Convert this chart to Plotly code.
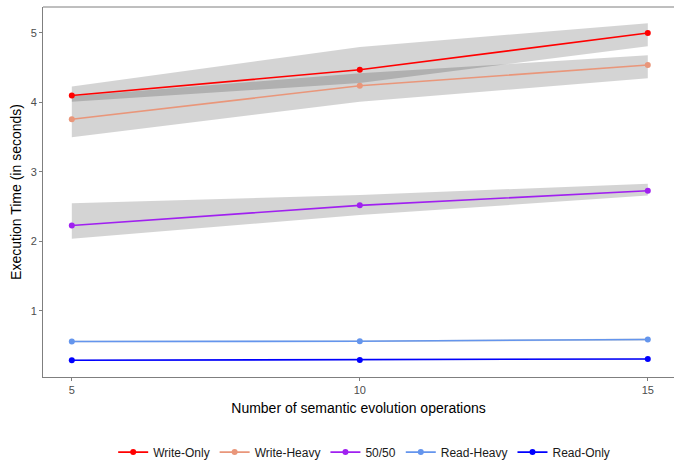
import plotly.graph_objects as go

ops = [5, 10, 15]
series_names = ["Write-Only", "Write-Heavy", "50/50", "Read-Heavy", "Read-Only"]
series_colors = ["#FF0000", "#E9967A", "#A020F0", "#6495ED", "#0000FF"]

write_only = [4.10, 4.47, 5.00]
write_heavy = [3.76, 4.24, 4.54]
fifty_fifty = [2.23, 2.52, 2.73]
read_heavy = [0.56, 0.565, 0.59]
read_only = [0.29, 0.295, 0.31]

write_only_lo = [4.01, 4.28, 4.81]
write_only_hi = [4.23, 4.80, 5.14]
write_heavy_lo = [3.50, 4.01, 4.35]
write_heavy_hi = [4.09, 4.42, 4.68]
fifty_fifty_lo = [2.04, 2.38, 2.66]
fifty_fifty_hi = [2.55, 2.67, 2.83]
read_heavy_lo = [0.55, 0.555, 0.575]
read_heavy_hi = [0.57, 0.575, 0.605]
read_only_lo = [0.28, 0.285, 0.30]
read_only_hi = [0.30, 0.305, 0.32]

means = [write_only, write_heavy, fifty_fifty, read_heavy, read_only]
lows = [write_only_lo, write_heavy_lo, fifty_fifty_lo, read_heavy_lo, read_only_lo]
highs = [write_only_hi, write_heavy_hi, fifty_fifty_hi, read_heavy_hi, read_only_hi]

x_ticks = [5, 10, 15]
y_ticks = [1, 2, 3, 4, 5]

fig = go.Figure()

for lo, hi in zip(lows, highs):
    fig.add_trace(go.Scatter(
        x=ops + ops[::-1], y=hi + lo[::-1],
        fill="toself", fillcolor="rgba(0,0,0,0.17)",
        line=dict(width=0), mode="lines", showlegend=False, hoverinfo="skip"))

for name, color, vals in zip(series_names, series_colors, means):
    fig.add_trace(go.Scatter(
        x=ops, y=vals, name=name, mode="lines+markers",
        line=dict(color=color, width=1.6),
        marker=dict(color=color, size=6)))

axis_common = dict(
    showgrid=False, zeroline=False, showline=True, linecolor="#7f7f7f", linewidth=1,
    ticks="outside", ticklen=3, tickcolor="#7f7f7f", automargin=False,
    tickfont=dict(family="Liberation Sans, Arial, sans-serif", size=11, color="#4d4d4d"),
    title_font=dict(family="Liberation Sans, Arial, sans-serif", size=14, color="#000000"),
)

fig.update_layout(
    width=674, height=460,
    margin=dict(l=43, r=0, t=7, b=83, autoexpand=False),
    paper_bgcolor="white", plot_bgcolor="white",
    xaxis=dict(range=[4.5, 15.455], tickvals=x_ticks,
               title=dict(text="Number of semantic evolution operations", standoff=7),
               mirror=False, **axis_common),
    yaxis=dict(range=[0.05, 5.374], tickvals=y_ticks,
               title=dict(text="Execution Time (in seconds)", standoff=5),
               **axis_common),
    legend=dict(orientation="h", x=0.509, xanchor="center", y=-0.203, yanchor="middle",
                font=dict(family="Liberation Sans, Arial, sans-serif", size=12, color="#1a1a1a"),
                itemwidth=30, bgcolor="rgba(0,0,0,0)"),
    shapes=[dict(type="line", xref="paper", yref="paper", x0=0, x1=1, y0=1, y1=1,
                 line=dict(color="#7f7f7f", width=1))],
)

fig.write_html("out.html", config={"displayModeBar": False},
               post_script="document.body.style.margin='0';document.body.style.overflow='hidden';")
